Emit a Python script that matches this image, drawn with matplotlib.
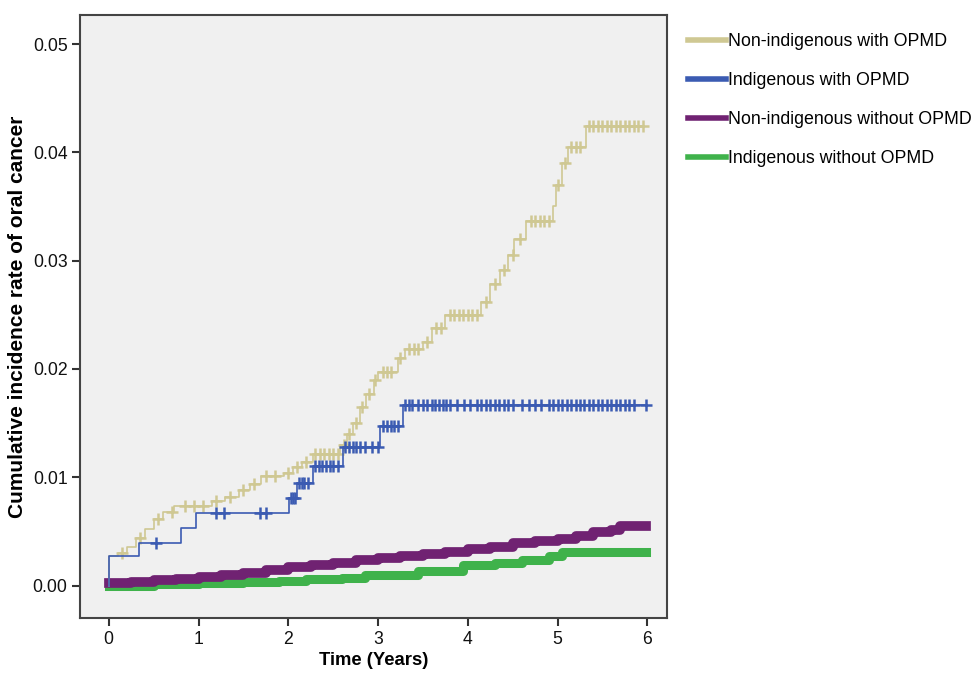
import numpy as np
import matplotlib.pyplot as plt

plt.rcParams['font.family'] = ['Liberation Sans', 'DejaVu Sans']

# step curves: event times (years) and cumulative incidence after each step
nonind_opmd_t = [0.0, 0.1, 0.2, 0.3, 0.4, 0.5, 0.6, 0.73, 1.15, 1.3, 1.45, 1.57, 1.7,
                 1.95, 2.05, 2.15, 2.28, 2.58, 2.65, 2.72, 2.8, 2.87, 2.95, 3.0, 3.22,
                 3.3, 3.5, 3.6, 3.75, 4.15, 4.25, 4.36, 4.45, 4.52, 4.65, 4.95, 4.98,
                 5.05, 5.12, 5.32]
nonind_opmd_y = [0.0027, 0.0030, 0.0036, 0.0044, 0.0052, 0.0061, 0.0068, 0.0073, 0.0078,
                 0.0082, 0.0088, 0.0094, 0.0101, 0.0104, 0.0109, 0.0114, 0.0121, 0.0130,
                 0.0140, 0.0150, 0.0165, 0.0177, 0.0190, 0.0197, 0.0210, 0.0218, 0.0225,
                 0.0238, 0.0250, 0.0262, 0.0278, 0.0291, 0.0305, 0.0320, 0.0337, 0.0350,
                 0.0370, 0.0390, 0.0405, 0.0424]
nonind_opmd_end = 5.95
nonind_opmd_cens = [0.15, 0.35, 0.55, 0.7, 0.85, 0.95, 1.05, 1.2, 1.35, 1.5, 1.62, 1.75,
                    1.85, 2.0, 2.1, 2.2, 2.3, 2.35, 2.4, 2.45, 2.5, 2.55, 2.62, 2.68, 2.75,
                    2.82, 2.9, 2.97, 3.05, 3.1, 3.15, 3.25, 3.35, 3.4, 3.45, 3.55, 3.65,
                    3.7, 3.8, 3.85, 3.9, 3.95, 4.0, 4.05, 4.1, 4.2, 4.3, 4.4, 4.5, 4.58,
                    4.7, 4.75, 4.8, 4.85, 4.9, 5.0, 5.08, 5.15, 5.2, 5.25, 5.35, 5.4, 5.45,
                    5.5, 5.55, 5.6, 5.65, 5.7, 5.75, 5.8, 5.85, 5.9, 5.95]

ind_opmd_t = [0.0, 0.34, 0.8, 0.97, 2.01, 2.1, 2.27, 2.61, 3.02, 3.28]
ind_opmd_y = [0.0027, 0.0039, 0.0053, 0.0067, 0.0081, 0.0095, 0.0110, 0.0128, 0.0147, 0.0167]
ind_opmd_end = 5.98
ind_opmd_cens = [0.53, 1.19, 1.28, 1.68, 1.75, 2.03, 2.05, 2.07, 2.12, 2.15, 2.18, 2.22,
                 2.3, 2.34, 2.38, 2.42, 2.46, 2.5, 2.55, 2.63, 2.68, 2.72, 2.76, 2.8, 2.86,
                 2.93, 3.0, 3.05, 3.1, 3.14, 3.18, 3.22, 3.3, 3.35, 3.38, 3.45, 3.5, 3.55,
                 3.6, 3.64, 3.68, 3.72, 3.76, 3.8, 3.88, 3.96, 4.02, 4.1, 4.15, 4.2, 4.25,
                 4.3, 4.35, 4.4, 4.45, 4.5, 4.6, 4.68, 4.75, 4.82, 4.9, 4.95, 5.0, 5.05,
                 5.1, 5.15, 5.2, 5.25, 5.3, 5.35, 5.4, 5.45, 5.5, 5.55, 5.6, 5.65, 5.7,
                 5.75, 5.8, 5.85, 5.98]

nonind_no_t = [0.0, 0.25, 0.5, 0.75, 1.0, 1.25, 1.5, 1.75, 2.0, 2.25, 2.5, 2.75, 3.0,
               3.25, 3.5, 3.75, 4.0, 4.25, 4.5, 4.75, 5.0, 5.2, 5.4, 5.6, 5.7]
nonind_no_y = [0.0002, 0.0003, 0.0005, 0.0006, 0.0008, 0.0010, 0.0012, 0.0014, 0.0017,
               0.0019, 0.0021, 0.0024, 0.0025, 0.0027, 0.0029, 0.0031, 0.0034, 0.0036,
               0.0039, 0.0041, 0.0043, 0.0046, 0.0049, 0.0051, 0.0055]
nonind_no_end = 5.98

ind_no_t = [0.0, 0.5, 1.0, 1.5, 1.9, 2.2, 2.6, 2.85, 3.45, 3.95, 4.3, 4.6, 4.9, 5.05]
ind_no_y = [0.0000, 0.0001, 0.0002, 0.0003, 0.0004, 0.0006, 0.0007, 0.0010, 0.0013,
            0.0019, 0.0021, 0.0024, 0.0027, 0.0031]
ind_no_end = 5.98

labels = ['Non-indigenous with OPMD', 'Indigenous with OPMD',
          'Non-indigenous without OPMD', 'Indigenous without OPMD']
colors = ['#cfc893', '#3b5bb2', '#702272', '#3fb24b']


def step_xy(t, y, end):
    xs = [0.0] + list(t) + [end]
    ys = [0.0] + list(y) + [y[-1]]
    return xs, ys


def value_at(t, y, times):
    idx = np.searchsorted(t, times, side='right') - 1
    return np.array(y)[idx]


fig = plt.figure(figsize=(9.71, 6.73), dpi=100)
ax = fig.add_axes([0.0824, 0.0817, 0.6046, 0.8963])
ax.set_facecolor('#f0f0f0')

# thick bands for the large groups (dense censoring marks)
xs, ys = step_xy(ind_no_t, ind_no_y, ind_no_end)
ax.step(xs[1:], ys[1:], where='post', color=colors[3], lw=6.5, zorder=2)
xs, ys = step_xy(nonind_no_t, nonind_no_y, nonind_no_end)
ax.step(xs[1:], ys[1:], where='post', color=colors[2], lw=7, zorder=3)

for t, y, end, cens, c in [(nonind_opmd_t, nonind_opmd_y, nonind_opmd_end, nonind_opmd_cens, colors[0]),
                           (ind_opmd_t, ind_opmd_y, ind_opmd_end, ind_opmd_cens, colors[1])]:
    xs, ys = step_xy(t, y, end)
    ax.step(xs, ys, where='post', color=c, lw=1.2, zorder=4)
    ax.plot(cens, value_at(t, y, cens), ls='none', marker='+', ms=9, mew=1.8,
            color=c, zorder=4)

ax.set_xlim(-0.32, 6.22)
ax.set_ylim(-0.0030, 0.0527)
ax.set_xticks(range(7))
ax.set_yticks([0, 0.01, 0.02, 0.03, 0.04, 0.05])
ax.set_yticklabels(['0.00', '0.01', '0.02', '0.03', '0.04', '0.05'])
ax.tick_params(direction='out', length=6, width=1.5, color='#333333',
               labelsize=12.7, labelcolor='#111111', pad=3)
for s in ax.spines.values():
    s.set_color('#444444')
    s.set_linewidth(1.5)

ax.set_xlabel('Time (Years)', fontsize=13.3, fontweight='bold', labelpad=3)
ax.set_ylabel('Cumulative incidence rate of oral cancer', fontsize=15,
              fontweight='bold', labelpad=4)

handles = [plt.Line2D([], [], color=c, lw=4) for c in colors]
ax.legend(handles, labels, loc='upper left', bbox_to_anchor=(1.024, 0.982),
          frameon=False, fontsize=12.8, handlelength=2.1, handletextpad=0.15,
          labelspacing=1.25, borderaxespad=0)

fig.savefig('out.png', dpi=100)
